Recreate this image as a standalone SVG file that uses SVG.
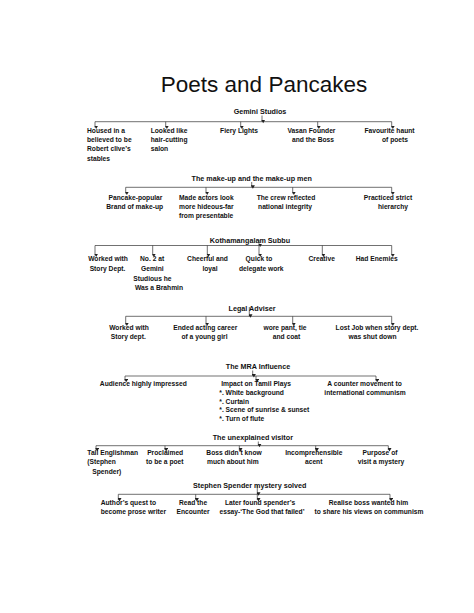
<svg xmlns="http://www.w3.org/2000/svg" width="474" height="613" viewBox="0 0 474 613">
<style>
.title{font-family:"Liberation Sans",Arial,sans-serif;font-size:22.5px;fill:#111;text-anchor:middle}
.h{font-family:"Liberation Sans",Arial,sans-serif;font-weight:bold;font-size:7.2px;fill:#111;text-anchor:middle}
.c{font-family:"Liberation Sans",Arial,sans-serif;font-weight:bold;font-size:6.7px;fill:#111;text-anchor:middle}
.l{text-anchor:start}
.ln{stroke:#333;stroke-width:0.7;fill:none}
.ar{stroke:#333;stroke-width:0.7;fill:none;marker-end:url(#ah)}
</style>
<defs>
<marker id="ah" markerUnits="userSpaceOnUse" markerWidth="4" markerHeight="4" refX="2" refY="3.2" orient="auto-start-reverse" viewBox="0 0 4 4">
<path d="M0,0 L4,0 L2,3.5 z" transform="rotate(-90 2 2)" fill="#222"/>
</marker>
</defs>
<rect width="474" height="613" fill="#fff"/>
<text class="title" x="264" y="92">Poets and Pancakes</text>

<g id="connectors">
<!-- section 1 -->
<line class="ln" x1="95" y1="121.7" x2="391.7" y2="121.7"/>
<line class="ar" x1="262" y1="115.5" x2="262" y2="121.7"/>
<line class="ar" x1="95" y1="121.7" x2="95" y2="127.5"/>
<line class="ar" x1="165.7" y1="121.7" x2="165.7" y2="127.5"/>
<line class="ar" x1="240.7" y1="121.7" x2="240.7" y2="127.5"/>
<line class="ar" x1="317.7" y1="121.7" x2="317.7" y2="127.5"/>
<line class="ar" x1="391.7" y1="121.7" x2="391.7" y2="127.5"/>
<!-- section 2 -->
<line class="ln" x1="125.7" y1="187.3" x2="391.7" y2="187.3"/>
<line class="ar" x1="251.7" y1="182" x2="251.7" y2="187.3"/>
<line class="ar" x1="125.7" y1="187.3" x2="125.7" y2="193.5"/>
<line class="ar" x1="206" y1="187.3" x2="206" y2="193.5"/>
<line class="ar" x1="292.7" y1="187.3" x2="292.7" y2="193.5"/>
<line class="ar" x1="391.7" y1="187.3" x2="391.7" y2="193.5"/>
<!-- section 3 -->
<line class="ln" x1="95" y1="245.5" x2="391.7" y2="245.5"/>
<line class="ar" x1="259" y1="240" x2="259" y2="245.5"/>
<line class="ar" x1="95" y1="245.5" x2="95" y2="255.5"/>
<line class="ar" x1="152.7" y1="245.5" x2="152.7" y2="255.5"/>
<line class="ar" x1="207.3" y1="245.5" x2="207.3" y2="255.5"/>
<line class="ar" x1="259" y1="245.5" x2="259" y2="255.5"/>
<line class="ar" x1="322.3" y1="245.5" x2="322.3" y2="255.5"/>
<line class="ar" x1="391.7" y1="245.5" x2="391.7" y2="255.5"/>
<!-- section 4 -->
<line class="ln" x1="125.7" y1="316.3" x2="391.7" y2="316.3"/>
<line class="ar" x1="249.3" y1="307" x2="249.3" y2="316.3"/>
<line class="ar" x1="125.7" y1="316.3" x2="125.7" y2="324.5"/>
<line class="ar" x1="206" y1="316.3" x2="206" y2="324.5"/>
<line class="ar" x1="292.7" y1="316.3" x2="292.7" y2="324.5"/>
<line class="ar" x1="391.7" y1="316.3" x2="391.7" y2="324.5"/>
<!-- section 5 -->
<line class="ln" x1="125" y1="376" x2="376" y2="376"/>
<line class="ar" x1="252.7" y1="370.5" x2="252.7" y2="376"/>
<line class="ar" x1="125" y1="376" x2="125" y2="380.8"/>
<line class="ar" x1="256" y1="376" x2="256" y2="380.8"/>
<line class="ar" x1="376" y1="376" x2="376" y2="380.8"/>
<!-- section 6 -->
<line class="ln" x1="96" y1="445.7" x2="388.3" y2="445.7"/>
<line class="ar" x1="258.3" y1="441.5" x2="258.3" y2="445.7"/>
<line class="ar" x1="96" y1="445.7" x2="96" y2="450"/>
<line class="ar" x1="165" y1="445.7" x2="165" y2="450"/>
<line class="ar" x1="239.3" y1="445.7" x2="239.3" y2="450"/>
<line class="ar" x1="315.7" y1="445.7" x2="315.7" y2="450"/>
<line class="ar" x1="388.3" y1="445.7" x2="388.3" y2="450"/>
<!-- section 7 -->
<line class="ln" x1="118.3" y1="494.3" x2="390" y2="494.3"/>
<line class="ar" x1="257.3" y1="485" x2="257.3" y2="494.3"/>
<line class="ar" x1="118.3" y1="494.3" x2="118.3" y2="500"/>
<line class="ar" x1="195.7" y1="494.3" x2="195.7" y2="500"/>
<line class="ar" x1="257.3" y1="494.3" x2="257.3" y2="500"/>
<line class="ar" x1="390" y1="494.3" x2="390" y2="500"/>
</g>

<g id="gemini"><text class="h" x="260" y="114">Gemini Studios</text></g>
<g id="g1"><text class="c l" x="87" y="132.7">Housed in a</text><text class="c l" x="87" y="142">believed to be</text><text class="c l" x="87" y="151.3">Robert clive’s</text><text class="c l" x="87" y="160.5">stables</text></g>
<g id="g2"><text class="c l" x="150.7" y="132.7">Looked like</text><text class="c l" x="150.7" y="142">hair-cutting</text><text class="c l" x="150.7" y="151.3">salon</text></g>
<g id="g3"><text class="c" x="239" y="132.7">Fiery Lights</text></g>
<g id="g4"><text class="c" x="311.5" y="132.7">Vasan Founder</text><text class="c" x="313" y="142">and the Boss</text></g>
<g id="g5"><text class="c" x="389.5" y="132.7">Favourite haunt</text><text class="c" x="395" y="142">of poets</text></g>

<g id="makeup"><text class="h" x="251.7" y="180.7">The make-up and the make-up men</text></g>
<g id="m1"><text class="c" x="135.5" y="199.7">Pancake-popular</text><text class="c" x="134.7" y="208.7">Brand of make-up</text></g>
<g id="m2"><text class="c l" x="179" y="199.7">Made actors look</text><text class="c l" x="179" y="208.7">more hideous-far</text><text class="c l" x="179" y="218">from presentable</text></g>
<g id="m3"><text class="c" x="286" y="199.7">The crew reflected</text><text class="c" x="285" y="208.7">national integrity</text></g>
<g id="m4"><text class="c" x="388" y="199.7">Practiced strict</text><text class="c" x="393" y="208.7">hierarchy</text></g>

<g id="subbu"><text class="h" x="250" y="242.5">Kothamangalam Subbu</text></g>
<g id="s1"><text class="c" x="108" y="261.3">Worked with</text><text class="c" x="107.5" y="271">Story Dept.</text></g>
<g id="s2"><text class="c l" x="140" y="261.3">No. 2 at</text><text class="c l" x="141" y="271">Gemini</text><text class="c l" x="133.3" y="280.7">Studious he</text><text class="c l" x="135" y="290">Was a Brahmin</text></g>
<g id="s3"><text class="c" x="207.5" y="261.3">Cheerful and</text><text class="c" x="210" y="271">loyal</text></g>
<g id="s4"><text class="c" x="259" y="261.3">Quick to</text><text class="c" x="261.3" y="271">delegate work</text></g>
<g id="s5"><text class="c" x="321.7" y="261.3">Creative</text></g>
<g id="s6"><text class="c" x="376.7" y="261.3">Had Enemies</text></g>

<g id="legal"><text class="h" x="252" y="310.7">Legal Adviser</text></g>
<g id="l1"><text class="c" x="129" y="330">Worked with</text><text class="c" x="128.3" y="339.3">Story dept.</text></g>
<g id="l2"><text class="c" x="205.3" y="330">Ended acting career</text><text class="c" x="204.5" y="339.3">of a young girl</text></g>
<g id="l3"><text class="c" x="285" y="330">wore pant, tie</text><text class="c" x="286.5" y="339.3">and coat</text></g>
<g id="l4"><text class="c" x="377" y="330">Lost Job when story dept.</text><text class="c" x="372.5" y="339.3">was shut down</text></g>

<g id="mra"><text class="h" x="258" y="369">The MRA Influence</text></g>
<g id="r1"><text class="c" x="143.3" y="386">Audience highly impressed</text></g>
<g id="r2"><text class="c" x="256" y="386">Impact on Tamil Plays</text><text class="c l" x="219.3" y="394.7">*. White background</text><text class="c l" x="219.3" y="403.7">*. Curtain</text><text class="c l" x="219.3" y="412.3">*. Scene of sunrise &amp; sunset</text><text class="c l" x="219.3" y="421">*. Turn of flute</text></g>
<g id="r3"><text class="c" x="364.5" y="386">A counter movement to</text><text class="c" x="365" y="394.7">international communism</text></g>

<g id="visitor"><text class="h" x="252.8" y="440">The unexplained visitor</text></g>
<g id="v1"><text class="c l" x="87.3" y="455">Tall Englishman</text><text class="c l" x="87.3" y="464.3">(Stephen</text><text class="c l" x="92.3" y="474">Spender)</text></g>
<g id="v2"><text class="c" x="165.2" y="455">Proclaimed</text><text class="c" x="164.8" y="464.3">to be a poet</text></g>
<g id="v3"><text class="c" x="234" y="455">Boss didn’t know</text><text class="c" x="232.8" y="464.3">much about him</text></g>
<g id="v4"><text class="c" x="313.8" y="455">Incomprehensible</text><text class="c" x="313.7" y="464.3">acent</text></g>
<g id="v5"><text class="c" x="380" y="455">Purpose of</text><text class="c" x="381" y="464.3">visit a mystery</text></g>

<g id="solved"><text class="h" x="249.7" y="487.7">Stephen Spender mystery solved</text></g>
<g id="p1"><text class="c l" x="100.7" y="505">Author’s quest to</text><text class="c l" x="100.7" y="514.3">become prose writer</text></g>
<g id="p2"><text class="c" x="193" y="505">Read the</text><text class="c" x="193" y="514.3">Encounter</text></g>
<g id="p3"><text class="c" x="260" y="505">Later found spender’s</text><text class="c" x="262" y="514.3">essay-‘The God that failed’</text></g>
<g id="p4"><text class="c" x="368.5" y="505">Realise boss wanted him</text><text class="c" x="369" y="514.3">to share his views on communism</text></g>
</svg>
